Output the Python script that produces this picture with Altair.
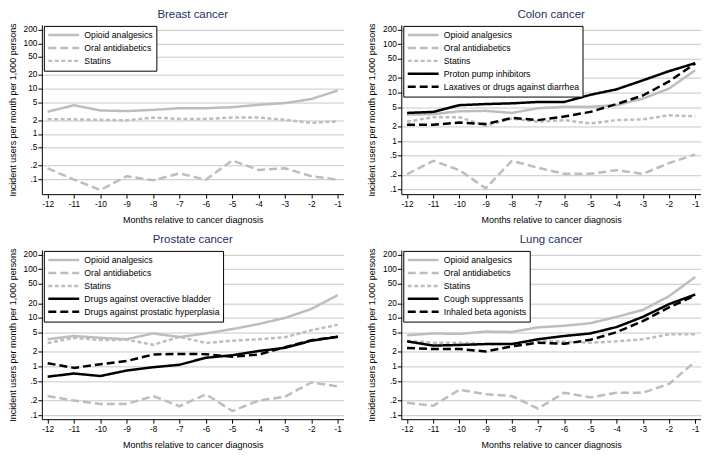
import altair as alt
import pandas as pd

months = [-12, -11, -10, -9, -8, -7, -6, -5, -4, -3, -2, -1]

y_ticks = [0.1, 0.2, 0.5, 1, 2, 5, 10, 20, 50, 100, 200]
y_tick_labels = [".1", ".2", ".5", "1", "2", "5", "10", "20", "50", "100", "200"]

panel_titles = ["Breast cancer", "Colon cancer", "Prostate cancer", "Lung cancer"]

common_names = ["Opioid analgesics", "Oral antidiabetics", "Statins"]
colon_extra = ["Proton pump inhibitors", "Laxatives or drugs against diarrhea"]
prostate_extra = ["Drugs against overactive bladder", "Drugs against prostatic hyperplasia"]
lung_extra = ["Cough suppressants", "Inhaled beta agonists"]

breast_opioid = [3.1, 4.3, 3.3, 3.2, 3.4, 3.7, 3.7, 3.9, 4.4, 4.8, 5.9, 9.1]
breast_oral = [0.175, 0.098, 0.058, 0.117, 0.095, 0.135, 0.098, 0.26, 0.16, 0.175, 0.117, 0.098]
breast_statins = [2.1, 2.1, 2.05, 2.0, 2.3, 2.15, 2.15, 2.3, 2.3, 2.05, 1.75, 1.9]

colon_opioid = [3.5, 3.6, 4.1, 4.2, 3.8, 4.75, 5.1, 5.1, 5.5, 7.5, 12.1, 29]
colon_oral = [0.206, 0.39, 0.25, 0.106, 0.39, 0.28, 0.21, 0.21, 0.25, 0.21, 0.35, 0.53]
colon_statins = [2.5, 3.1, 3.1, 2.07, 2.9, 2.5, 2.7, 2.3, 2.7, 2.8, 3.4, 3.25]
colon_ppi = [3.8, 4.0, 5.5, 5.8, 6.0, 6.4, 6.4, 9.0, 11.7, 17.9, 27.7, 40.5]
colon_lax = [2.17, 2.17, 2.4, 2.24, 3.0, 2.7, 3.2, 4.0, 5.8, 8.7, 17, 40]

prostate_opioid = [3.65, 4.25, 3.9, 3.65, 4.8, 4.05, 4.8, 5.9, 7.5, 10.0, 15.3, 29.4]
prostate_oral = [0.248, 0.2, 0.17, 0.17, 0.248, 0.153, 0.27, 0.122, 0.2, 0.24, 0.475, 0.39]
prostate_statins = [3.05, 3.9, 3.5, 3.55, 2.8, 4.1, 3.05, 3.4, 3.65, 4.0, 5.6, 7.2]
prostate_bladder = [0.62, 0.72, 0.64, 0.83, 0.97, 1.09, 1.52, 1.71, 2.09, 2.43, 3.4, 4.1]
prostate_bph = [1.17, 0.94, 1.12, 1.3, 1.77, 1.82, 1.8, 1.59, 1.77, 2.5, 3.5, 4.1]

lung_opioid = [4.4, 4.8, 4.7, 5.25, 5.15, 6.4, 6.9, 7.8, 10.5, 14.6, 28, 69.5]
lung_oral = [0.18, 0.157, 0.335, 0.27, 0.248, 0.137, 0.29, 0.233, 0.29, 0.29, 0.44, 1.27]
lung_statins = [3.4, 3.1, 3.1, 2.9, 2.9, 3.4, 3.25, 3.1, 3.3, 3.65, 4.6, 4.6]
lung_cough = [3.3, 2.7, 2.78, 2.9, 2.9, 3.65, 4.25, 4.8, 6.5, 10.5, 19.2, 30.3]
lung_beta = [2.4, 2.3, 2.3, 2.05, 2.6, 3.1, 2.95, 3.55, 5.1, 8.6, 16.5, 28.9]

GRAY = "#bdbdbd"
BLACK = "#000000"
LONG_DASH = [8, 4]
SHORT_DASH = [4, 2.5]
SOLID = [1, 0]
FONT = "Liberation Sans"

x_title = "Months relative to cancer diagnosis"
y_title = "Incident users per month per 1,000 persons"

# y label expression built from tick lists
label_expr = "''"
for v, l in reversed(list(zip(y_ticks, y_tick_labels))):
    label_expr = f"abs(datum.value - {v}) < {v * 0.01} ? '{l}' : ({label_expr})"

W_LEFT = 303
W_RIGHT = 301
H = 170


def panel(title, names, values, colors, dashes, ydomain, width):
    rows = []
    for name, vals in zip(names, values):
        for m, v in zip(months, vals):
            rows.append({"month": m, "value": v, "series": name})
    df = pd.DataFrame(rows)
    legend = alt.Legend(
        title=None,
        orient="none",
        legendX=2,
        legendY=1,
        direction="vertical",
        fillColor="white",
        strokeColor="black",
        padding=3,
        cornerRadius=0,
        symbolType="stroke",
        symbolSize=961,
        symbolStrokeWidth=2.5,
        clipHeight=12.3,
        rowPadding=0,
        labelOffset=3.7,
        labelFont=FONT,
        labelFontSize=8.7,
        labelColor="black",
        labelLimit=300,
    )
    chart = (
        alt.Chart(df)
        .mark_line(strokeWidth=2.5, strokeJoin="round")
        .encode(
            x=alt.X(
                "month:Q",
                scale=alt.Scale(domain=[-12.22, -0.78], nice=False, zero=False),
                axis=alt.Axis(
                    values=months,
                    labelExpr="toString(datum.value)",
                    title=x_title,
                    grid=False,
                    titlePadding=8,
                    labelPadding=1,
                ),
            ),
            y=alt.Y(
                "value:Q",
                scale=alt.Scale(type="log", domain=ydomain, nice=False),
                axis=alt.Axis(
                    values=y_ticks,
                    labelExpr=label_expr,
                    title=y_title,
                    grid=True,
                    titlePadding=6,
                    labelPadding=1,
                ),
            ),
            color=alt.Color(
                "series:N",
                scale=alt.Scale(domain=names, range=colors),
                legend=legend,
            ),
            strokeDash=alt.StrokeDash(
                "series:N",
                scale=alt.Scale(domain=names, range=dashes),
                legend=legend,
            ),
        )
        .properties(
            width=width,
            height=H,
            title=alt.TitleParams(
                title,
                font=FONT,
                fontSize=11.5,
                fontWeight="normal",
                color="#22305e",
                anchor="middle",
                frame="group",
                offset=2,
            ),
        )
    )
    return chart


base_colors = [GRAY, GRAY, GRAY]
base_dashes = [SOLID, LONG_DASH, SHORT_DASH]
ext_colors = base_colors + [BLACK, BLACK]
ext_dashes = base_dashes + [SOLID, LONG_DASH]

breast = panel(panel_titles[0], common_names,
               [breast_opioid, breast_oral, breast_statins],
               base_colors, base_dashes, [0.047, 255], W_LEFT)
colon = panel(panel_titles[1], common_names + colon_extra,
              [colon_opioid, colon_oral, colon_statins, colon_ppi, colon_lax],
              ext_colors, ext_dashes, [0.08, 250], W_RIGHT)
prostate = panel(panel_titles[2], common_names + prostate_extra,
                 [prostate_opioid, prostate_oral, prostate_statins, prostate_bladder, prostate_bph],
                 ext_colors, ext_dashes, [0.083, 250], W_LEFT)
lung = panel(panel_titles[3], common_names + lung_extra,
             [lung_opioid, lung_oral, lung_statins, lung_cough, lung_beta],
             ext_colors, ext_dashes, [0.083, 250], W_RIGHT)

top = alt.hconcat(breast, colon, spacing=24).resolve_scale(
    color="independent", strokeDash="independent", x="independent", y="independent"
)
bottom = alt.hconcat(prostate, lung, spacing=24).resolve_scale(
    color="independent", strokeDash="independent", x="independent", y="independent"
)

chart = (
    alt.vconcat(top, bottom, spacing=9)
    .resolve_scale(color="independent", strokeDash="independent", x="independent", y="independent")
    .properties(padding=0, background="white")
    .configure_view(strokeWidth=0)
    .configure_axis(
        domainColor="black",
        domainWidth=1,
        tickColor="black",
        tickSize=4,
        tickWidth=1,
        labelFont=FONT,
        labelFontSize=8.3,
        labelColor="black",
        titleFont=FONT,
        titleFontSize=9,
        titleFontWeight="normal",
        titleColor="black",
        gridColor="#c8c8c8",
        gridWidth=1,
    )
)

chart.save("out.html", embed_options={"renderer": "svg", "actions": False})
